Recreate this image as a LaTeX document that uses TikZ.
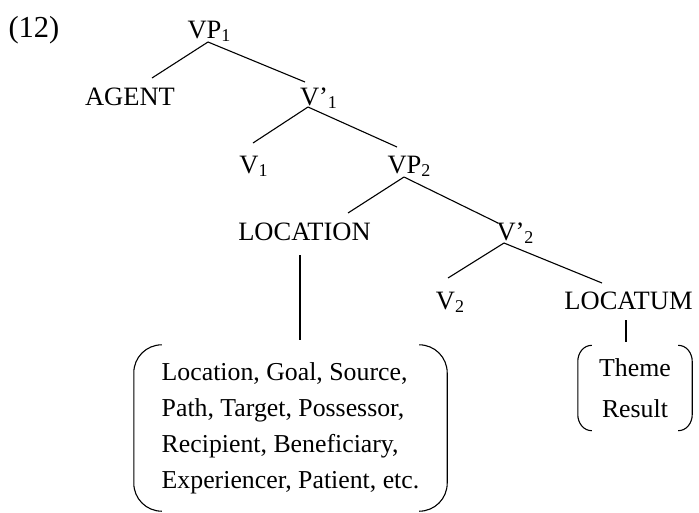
\documentclass[tikz,border=0pt]{standalone}
\usepackage{fontspec}
\setmainfont{Liberation Serif}
% lowered, smaller index digit for category labels
\newcommand\sbs[1]{\raisebox{-3pt}{\fontsize{18}{18}\selectfont #1}}
% round brackets drawn on both sides of a node: #1 node, #2 corner width, #3 corner height
\newcommand\parens[3]{%
  \draw[bracket] ([xshift=#2]#1.north west) to[out=180,in=90] ([yshift=-#3]#1.north west)
    -- ([yshift=#3]#1.south west) to[out=-90,in=180] ([xshift=#2]#1.south west);
  \draw[bracket] ([xshift=-#2]#1.north east) to[out=0,in=90] ([yshift=-#3]#1.north east)
    -- ([yshift=#3]#1.south east) to[out=-90,in=0] ([xshift=-#2]#1.south east);}
\begin{document}
\begin{tikzpicture}[x=1pt,y=-1pt,
  lbl/.style={font=\fontsize{26.5}{30}\selectfont, inner sep=0pt, anchor=base},
  branch/.style={line width=1.1pt},
  bracket/.style={line width=1.1pt},
  roleset/.style={inner sep=0pt, align=left}]
\useasboundingbox (0,0) rectangle (699,512);

% example number
\node[lbl, font=\fontsize{30.5}{34}\selectfont] (ex) at (34,37) {(12)};

% tree labels
\node[lbl] (vp1)   at (209,38)   {VP\sbs{1}};
\node[lbl] (agent) at (130,105)  {AGENT};
\node[lbl] (v1p)   at (318.5,105){V’\sbs{1}};
\node[lbl] (v1)    at (253.5,173){V\sbs{1}};
\node[lbl] (vp2)   at (409,173)  {VP\sbs{2}};
\node[lbl] (loc)   at (304.5,240){LOCATION};
\node[lbl] (v2p)   at (515,240)  {V’\sbs{2}};
\node[lbl] (v2)    at (450,309)  {V\sbs{2}};
\node[lbl] (lctm)  at (628.5,309){LOCATUM};

% role sets
\node[roleset, font=\fontsize{25.8}{36}\selectfont,
      minimum width=313pt, minimum height=166pt] (roles) at (290.5,428)
  {Location, Goal, Source,\\Path, Target, Possessor,\\Recipient, Beneficiary,\\Experiencer, Patient, etc.};
\node[roleset, align=center, font=\fontsize{25.8}{41}\selectfont,
      minimum width=114pt, minimum height=85pt] (themes) at (635,388)
  {Theme\\Result};
\parens{roles}{28pt}{28pt}
\parens{themes}{14pt}{16pt}

% branches
\draw[branch] ([shift={(-1,4)}]vp1.base)    -- ([shift={(22,-27)}]agent.base);
\draw[branch] ([shift={(-1,4)}]vp1.base)    -- ([shift={(-13.5,-23)}]v1p.base);
\draw[branch] ([shift={(-10.5,2)}]v1p.base) -- ([shift={(-0.5,-30)}]v1.base);
\draw[branch] ([shift={(-10.5,2)}]v1p.base) -- ([shift={(-12,-26)}]vp2.base);
\draw[branch] ([shift={(-5,4)}]vp2.base)    -- ([shift={(43.5,-27)}]loc.base);
\draw[branch] ([shift={(-5,4)}]vp2.base)    -- ([shift={(-17,-17)}]v2p.base);
\draw[branch] ([shift={(-11,3)}]v2p.base)   -- ([shift={(-2,-31)}]v2.base);
\draw[branch] ([shift={(-11,3)}]v2p.base)   -- ([shift={(-26.5,-26)}]lctm.base);

% links to role sets
\draw[branch] ([shift={(-4.5,15)}]loc.base)  -- ([xshift=9.5pt,yshift=5pt]roles.north);
\draw[branch] ([shift={(-2.5,11)}]lctm.base) -- ([xshift=-9pt,yshift=3.5pt]themes.north);
\end{tikzpicture}
\end{document}
